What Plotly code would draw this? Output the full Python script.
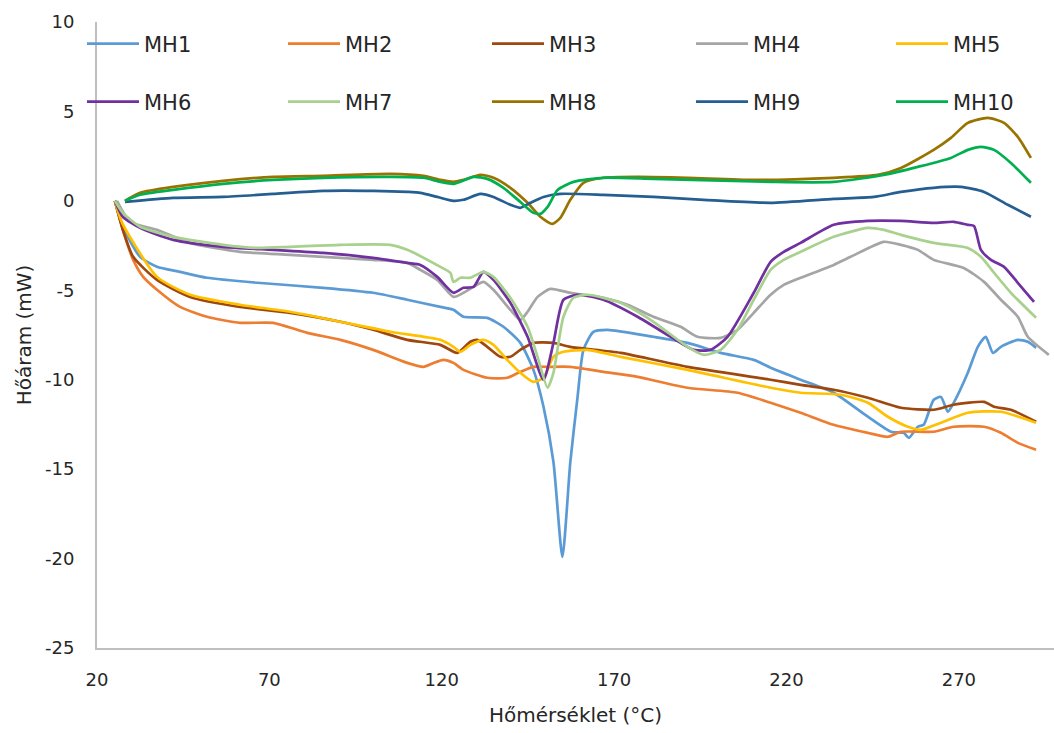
import plotly.graph_objects as go

# ---- data (temperature in °C, heat flow in mW) ----
mh1_x = [25.2, 27.5, 32.5, 37.4, 44.1, 51.9, 66.5, 85.6, 100.1, 110.0, 119.6, 123.4, 126.3, 133.2, 137.9, 142.8, 146.6, 149.5, 152.4, 155.0, 157.3, 159.4, 161.1, 164.0, 168.1, 181.4, 191.3, 200.9, 210.5, 215.4, 224.1, 233.7, 243.6, 250.3, 254.0, 255.5, 258.1, 259.8, 262.7, 264.8, 266.8, 268.5, 272.6, 275.5, 277.8, 279.9, 282.2, 287.1, 290.0, 292.4]
mh1_y = [0, -1.45, -3.13, -3.69, -3.97, -4.30, -4.58, -4.86, -5.14, -5.53, -5.93, -6.09, -6.48, -6.54, -7.04, -7.94, -9.45, -11.5, -14.6, -19.9, -14.6, -10.96, -8.33, -7.32, -7.21, -7.60, -7.94, -8.50, -8.89, -9.33, -10.0, -10.73, -12.07, -12.91, -12.97, -13.25, -12.63, -12.52, -11.12, -10.96, -11.79, -11.29, -9.61, -8.16, -7.60, -8.50, -8.16, -7.77, -7.88, -8.22]

mh2_x = [25.2, 27.5, 30.5, 33.4, 37.4, 44.1, 51.9, 61.5, 71.1, 81.0, 90.6, 100.1, 110.0, 114.7, 117.6, 120.5, 123.4, 126.3, 133.2, 139.0, 142.8, 146.6, 150.7, 157.3, 166.9, 176.8, 191.3, 205.8, 215.4, 224.1, 233.7, 243.6, 249.4, 253.2, 262.7, 268.5, 277.3, 282.2, 287.1, 292.4]
mh2_y = [0, -1.62, -3.30, -4.25, -4.97, -5.93, -6.48, -6.82, -6.82, -7.38, -7.77, -8.33, -9.06, -9.28, -9.06, -8.89, -9.06, -9.45, -9.89, -9.89, -9.56, -9.28, -9.28, -9.28, -9.56, -9.84, -10.45, -10.73, -11.29, -11.85, -12.52, -12.97, -13.19, -12.91, -12.91, -12.63, -12.63, -12.97, -13.53, -13.92]

mh3_x = [25.2, 27.5, 30.5, 37.4, 47.0, 61.5, 76.0, 90.6, 100.1, 110.0, 119.6, 124.5, 128.3, 130.3, 133.2, 137.0, 139.9, 142.8, 146.6, 152.4, 157.3, 171.9, 191.3, 215.4, 224.1, 233.7, 243.6, 253.2, 262.7, 268.5, 277.3, 280.2, 285.1, 292.4]
mh3_y = [0, -1.62, -3.13, -4.42, -5.37, -5.93, -6.26, -6.76, -7.21, -7.77, -8.05, -8.50, -7.88, -7.77, -8.16, -8.72, -8.72, -8.33, -7.94, -7.94, -8.16, -8.50, -9.28, -10.0, -10.29, -10.56, -11.01, -11.57, -11.68, -11.40, -11.24, -11.51, -11.68, -12.35]

mh4_x = [25.8, 29.6, 37.4, 47.0, 61.5, 76.0, 90.6, 100.1, 110.0, 113.8, 118.7, 123.4, 126.3, 129.2, 132.1, 135.0, 139.9, 142.8, 144.9, 147.8, 151.5, 157.3, 166.9, 173.9, 181.4, 189.3, 194.2, 200.9, 205.8, 210.5, 215.4, 219.2, 224.1, 233.7, 238.6, 248.2, 253.2, 258.1, 262.7, 271.4, 277.3, 282.2, 287.1, 290.0, 296.1]
mh4_y = [0, -1.17, -1.62, -2.35, -2.85, -3.02, -3.19, -3.30, -3.47, -3.86, -4.42, -5.37, -5.14, -4.81, -4.53, -4.97, -6.09, -6.65, -6.20, -5.37, -4.92, -5.14, -5.42, -5.81, -6.48, -7.04, -7.60, -7.66, -7.21, -6.26, -5.25, -4.70, -4.30, -3.58, -3.13, -2.29, -2.46, -2.74, -3.30, -3.75, -4.53, -5.53, -6.48, -7.60, -8.61]

mh5_x = [25.2, 27.3, 37.4, 47.0, 61.5, 76.0, 90.6, 105.1, 119.6, 123.4, 125.4, 128.3, 132.1, 135.0, 139.0, 142.8, 146.6, 149.5, 152.4, 155.3, 162.3, 171.9, 191.3, 215.4, 224.1, 235.7, 243.6, 249.4, 255.2, 259.0, 264.8, 272.6, 282.2, 292.4]
mh5_y = [0, -1.23, -4.25, -5.25, -5.81, -6.20, -6.76, -7.32, -7.77, -8.16, -8.44, -8.05, -7.77, -8.05, -8.89, -9.61, -10.12, -9.89, -8.72, -8.44, -8.33, -8.72, -9.45, -10.45, -10.73, -10.84, -11.29, -12.07, -12.63, -12.80, -12.41, -11.85, -11.79, -12.41]

mh6_x = [25.2, 27.5, 32.5, 42.1, 56.6, 71.1, 85.6, 100.1, 110.0, 113.8, 118.7, 123.4, 126.3, 129.2, 132.1, 135.0, 139.9, 144.9, 149.5, 152.4, 155.3, 159.4, 166.9, 176.8, 186.4, 193.1, 198.0, 202.9, 210.5, 215.4, 219.2, 224.1, 233.7, 243.6, 253.2, 262.7, 268.5, 272.6, 274.4, 276.4, 279.3, 283.1, 287.1, 291.8]
mh6_y = [0, -0.89, -1.51, -2.18, -2.57, -2.74, -2.91, -3.19, -3.47, -3.58, -4.25, -5.14, -4.86, -4.81, -3.97, -4.42, -5.70, -7.60, -10.0, -7.94, -5.53, -5.25, -5.53, -6.48, -7.60, -8.33, -8.33, -7.60, -5.14, -3.41, -2.85, -2.35, -1.34, -1.12, -1.12, -1.23, -1.17, -1.34, -1.40, -2.74, -3.30, -3.69, -4.58, -5.65]

mh7_x = [25.2, 27.5, 32.5, 42.1, 56.6, 66.5, 76.0, 90.6, 105.1, 110.0, 119.6, 122.5, 123.4, 125.4, 128.3, 132.1, 135.0, 139.9, 144.9, 147.8, 150.7, 152.4, 155.3, 158.2, 162.3, 171.9, 181.4, 191.3, 196.0, 200.9, 205.8, 210.5, 215.4, 219.2, 224.1, 233.7, 243.6, 248.2, 253.2, 262.7, 272.6, 276.4, 280.2, 285.1, 292.4]
mh7_y = [0, -0.67, -1.45, -2.01, -2.46, -2.63, -2.57, -2.46, -2.46, -2.74, -3.69, -4.02, -4.53, -4.30, -4.30, -3.97, -4.25, -5.42, -7.04, -8.72, -10.45, -9.61, -6.48, -5.42, -5.25, -5.70, -6.76, -8.16, -8.61, -8.33, -7.21, -5.53, -3.86, -3.30, -2.85, -2.01, -1.51, -1.62, -1.90, -2.35, -2.63, -3.13, -4.02, -5.14, -6.54]

mh8_x = [28.1, 32.5, 42.1, 56.6, 71.1, 85.6, 105.1, 114.7, 119.6, 123.4, 126.3, 131.2, 135.0, 139.9, 144.9, 148.6, 152.1, 154.4, 157.3, 161.1, 166.9, 176.8, 191.3, 210.5, 233.7, 246.5, 253.2, 262.7, 267.7, 272.6, 278.4, 283.1, 287.1, 290.9]
mh8_y = [0, 0.45, 0.78, 1.12, 1.34, 1.40, 1.51, 1.40, 1.17, 1.06, 1.17, 1.45, 1.29, 0.73, -0.11, -0.89, -1.29, -0.95, 0.06, 1.01, 1.29, 1.34, 1.29, 1.17, 1.29, 1.45, 1.84, 2.85, 3.52, 4.36, 4.64, 4.36, 3.58, 2.40]

mh9_x = [28.1, 42.1, 56.6, 71.1, 85.6, 100.1, 110.0, 113.8, 118.7, 123.4, 126.3, 131.2, 135.0, 139.9, 142.8, 145.7, 149.5, 154.4, 166.9, 181.4, 196.0, 215.4, 233.7, 245.3, 253.2, 262.7, 270.6, 277.3, 284.2, 290.9]
mh9_y = [-0.06, 0.17, 0.22, 0.39, 0.56, 0.56, 0.50, 0.45, 0.22, 0.0, 0.06, 0.39, 0.22, -0.22, -0.39, -0.11, 0.22, 0.39, 0.34, 0.22, 0.06, -0.11, 0.11, 0.22, 0.50, 0.73, 0.78, 0.50, -0.22, -0.89]

mh10_x = [28.1, 32.5, 42.1, 56.6, 71.1, 85.6, 105.1, 114.7, 119.6, 123.4, 129.2, 133.2, 137.9, 142.8, 146.6, 148.6, 150.7, 153.6, 158.2, 166.9, 181.4, 215.4, 233.7, 248.2, 258.1, 267.7, 272.6, 276.4, 280.2, 285.1, 290.9]
mh10_y = [0, 0.34, 0.61, 0.95, 1.17, 1.29, 1.34, 1.29, 1.06, 0.95, 1.34, 1.23, 0.73, -0.06, -0.67, -0.73, -0.34, 0.61, 1.06, 1.29, 1.23, 1.06, 1.06, 1.45, 1.90, 2.40, 2.85, 3.02, 2.85, 2.12, 1.01]

names = ["MH1", "MH2", "MH3", "MH4", "MH5", "MH6", "MH7", "MH8", "MH9", "MH10"]
xs = [mh1_x, mh2_x, mh3_x, mh4_x, mh5_x, mh6_x, mh7_x, mh8_x, mh9_x, mh10_x]
ys = [mh1_y, mh2_y, mh3_y, mh4_y, mh5_y, mh6_y, mh7_y, mh8_y, mh9_y, mh10_y]
colors = ["#5B9BD5", "#ED7D31", "#9E480E", "#A5A5A5", "#FFC000",
          "#7030A0", "#A9D18E", "#997300", "#255E91", "#00B050"]

x_ticks = [20, 70, 120, 170, 220, 270]
y_ticks = [10, 5, 0, -5, -10, -15, -20, -25]
y_tick_labels = ["10", "5", "0", "-5", "-10", "-15", "-20", "-25"]

FONT = "DejaVu Sans"
TXT = "#262626"

# legend layout: 2 rows x 5 columns, each entry its own small legend box
MARGIN_L, PLOT_W, PLOT_T, PLOT_H = 97, 957, 22, 626
ITEMW = 52
col_text_px = [144, 345, 549, 753, 953]
row_center_px = [44, 102]

fig = go.Figure()
layout_legends = {}
for i, (n, x, y, c) in enumerate(zip(names, xs, ys, colors)):
    key = "legend" if i == 0 else f"legend{i + 1}"
    fig.add_trace(go.Scatter(
        x=x, y=y, name=n, mode="lines",
        line=dict(color=c, width=2.7, shape="spline", smoothing=0.6),
        legend=key, showlegend=True,
    ))
    row, col = divmod(i, 5)
    left_px = col_text_px[col] - (ITEMW + 10)
    layout_legends[key] = dict(
        x=(left_px - MARGIN_L) / PLOT_W,
        y=(PLOT_T + PLOT_H - row_center_px[row]) / PLOT_H,
        xanchor="left", yanchor="middle",
        font=dict(family=FONT, size=21, color=TXT),
        bgcolor="rgba(0,0,0,0)", itemwidth=ITEMW,
    )

fig.update_layout(
    width=1054, height=733,
    showlegend=True,
    margin=dict(l=MARGIN_L, r=0, t=PLOT_T, b=85),
    plot_bgcolor="white", paper_bgcolor="white",
    font=dict(family=FONT, color=TXT),
    xaxis=dict(
        range=[20, 297.6], tickmode="array", tickvals=x_ticks,
        showgrid=False, zeroline=False,
        showline=True, linecolor="#BFBFBF", linewidth=2,
        ticks="", ticklabelstandoff=14,
        tickfont=dict(family=FONT, size=18, color=TXT),
        title=dict(text="Hőmérséklet (°C)", font=dict(family=FONT, size=20, color=TXT), standoff=19),
    ),
    yaxis=dict(
        range=[-25, 10], tickmode="array", tickvals=y_ticks, ticktext=y_tick_labels,
        showgrid=False, zeroline=False,
        showline=True, linecolor="#BFBFBF", linewidth=2,
        ticks="", ticklabelstandoff=17,
        tickfont=dict(family=FONT, size=18, color=TXT),
        title=dict(text="Hőáram (mW)", font=dict(family=FONT, size=20, color=TXT), standoff=8),
    ),
    **layout_legends,
)

fig.write_html("out.html")
